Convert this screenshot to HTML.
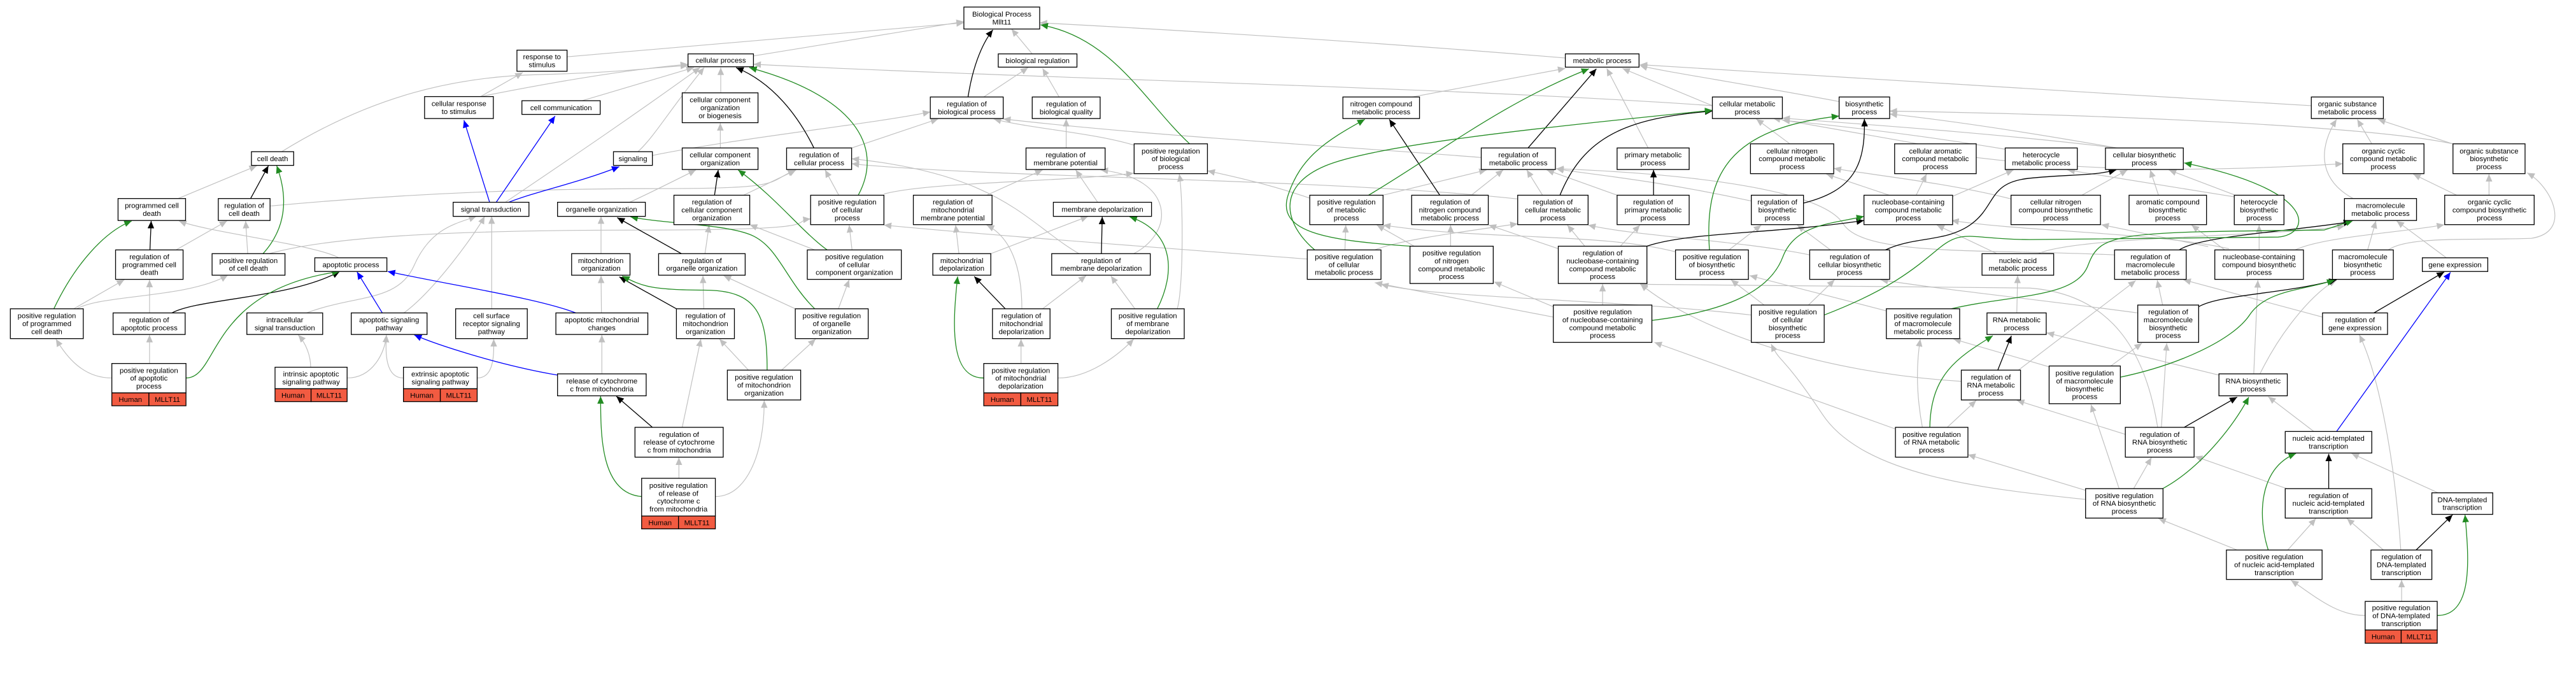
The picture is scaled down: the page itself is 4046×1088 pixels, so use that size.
<!DOCTYPE html>
<html><head><meta charset="utf-8"><style>
html,body{margin:0;padding:0;background:#fff;width:4046px;height:1088px;overflow:hidden}
svg{display:block}
rect{fill:#fff;stroke:#000;stroke-width:2}
rect.r{fill:#f25b41}
text{font-family:"Liberation Sans",sans-serif;font-size:17.5px;text-anchor:middle;fill:#000}
.g path{fill:none;stroke:#c0c0c0;stroke-width:1.8}
.k path{fill:none;stroke:#000;stroke-width:2}
.gr path{fill:none;stroke:#228b22;stroke-width:2}
.b path{fill:none;stroke:#0000ff;stroke-width:2}
</style></head><body>
<svg width="4046" height="1088" viewBox="0 0 6219 1672" preserveAspectRatio="none" xmlns="http://www.w3.org/2000/svg">
<defs>
<marker id="mg" markerWidth="20" markerHeight="16" refX="18" refY="8" orient="auto" markerUnits="userSpaceOnUse"><path d="M0,0 L18,8 L0,16 z" fill="#c0c0c0"/></marker>
<marker id="mk" markerWidth="20" markerHeight="16" refX="18" refY="8" orient="auto" markerUnits="userSpaceOnUse"><path d="M0,0 L18,8 L0,16 z" fill="#000"/></marker>
<marker id="mr" markerWidth="20" markerHeight="16" refX="18" refY="8" orient="auto" markerUnits="userSpaceOnUse"><path d="M0,0 L18,8 L0,16 z" fill="#228b22"/></marker>
<marker id="mb" markerWidth="20" markerHeight="16" refX="18" refY="8" orient="auto" markerUnits="userSpaceOnUse"><path d="M0,0 L18,8 L0,16 z" fill="#0000ff"/></marker>
</defs>
<g class="g" marker-end="url(#mg)">
<path d="M1369,137 L2327,55"/><path d="M1160,233 L1262,175"/><path d="M1160,233 C1400,185 1550,165 1661,155"/>
<path d="M1405,243 C1500,215 1600,185 1675,163"/><path d="M680,366 C900,230 1100,185 1300,180 S1550,165 1661,158"/>
<path d="M1220,488 C1350,400 1500,300 1690,163"/><path d="M1540,366 C1580,330 1620,260 1700,163"/>
<path d="M430,479 L620,400"/><path d="M652,497 C1000,465 1300,455 1600,455 S1850,440 1920,410"/>
<path d="M425,603 L548,533"/><path d="M598,612 L593,533"/><path d="M650,612 C800,570 1100,555 1560,555 S1900,535 1957,528"/>
<path d="M818,622 C760,590 500,560 432,533"/><path d="M178,745 L300,675"/><path d="M185,745 C250,710 450,720 550,664"/>
<path d="M361,755 L361,675"/><path d="M361,877 L361,808"/><path d="M270,912 C200,912 160,860 135,818"/>
<path d="M740,755 C860,710 960,730 1000,640 S1100,540 1150,522"/><path d="M975,755 C1050,700 1150,560 1170,522"/>
<path d="M1187,745 L1187,522"/><path d="M1452,755 L1451,665"/><path d="M1451,612 L1451,522"/>
<path d="M1520,488 C1560,470 1620,440 1680,410"/><path d="M750,886 C750,860 740,830 720,808"/>
<path d="M838,912 C900,912 930,850 933,808"/><path d="M974,912 C930,912 930,850 933,808"/>
<path d="M1152,912 C1195,912 1192,850 1192,818"/><path d="M1453,902 L1453,808"/>
<path d="M1647,1031 L1692,818"/><path d="M1639,1154 L1639,1104"/><path d="M1727,1198 C1800,1198 1845,1100 1845,966"/>
<path d="M1819,135 L2327,52"/><path d="M2492,130 L2442,70"/><path d="M2375,234 L2482,163"/><path d="M2557,234 L2517,165"/>
<path d="M2737,350 C2637,320 2487,310 2399,287"/><path d="M1740,224 L1740,163"/><path d="M1739,357 L1739,297"/>
<path d="M2056,357 L2265,287"/><path d="M2025,471 L1992,410"/><path d="M2134,468 C2237,440 2537,440 2737,418"/>
<path d="M1795,471 L1922,410"/><path d="M1967,603 L1810,542"/><path d="M2057,603 L2050,543"/><path d="M1702,612 L1712,543"/>
<path d="M1920,745 L1747,665"/><path d="M2024,745 L2050,675"/><path d="M1699,745 L1697,665"/>
<path d="M1807,893 L1737,818"/><path d="M1887,893 L1969,818"/><path d="M2574,357 L2574,287"/>
<path d="M2382,471 L2517,410"/><path d="M2650,488 L2597,410"/><path d="M2315,612 L2307,543"/><path d="M2392,612 L2627,522"/>
<path d="M2605,612 C2480,540 2420,420 2056,383"/>
<path d="M2737,612 C2837,560 2837,430 2657,410"/><path d="M2517,745 L2622,665"/><path d="M2467,745 C2467,640 2437,570 2382,543"/>
<path d="M2740,745 L2682,666"/><path d="M2842,745 C2857,700 2857,480 2847,420"/><path d="M2465,877 L2465,818"/>
<path d="M2554,912 C2627,912 2697,860 2737,818"/><path d="M1575,375 C1800,330 2100,300 2246,270"/>
<path d="M3779,140 C3300,100 2800,70 2510,55"/><path d="M4134,255 C3500,210 2500,190 1819,155"/>
<path d="M3576,380 C3200,350 2800,330 2422,287"/><path d="M3162,478 C3050,440 2950,420 2915,412"/>
<path d="M3664,480 C3200,430 2400,430 2056,395"/><path d="M3156,625 C2700,590 2300,560 2134,543"/>
<path d="M3409,234 L3779,165"/><path d="M4134,255 L3917,165"/><path d="M4440,245 C4200,200 4000,170 3959,158"/>
<path d="M3979,357 L3879,165"/><path d="M3339,471 L3589,410"/><path d="M3552,471 L3629,410"/><path d="M3724,471 L3686,410"/>
<path d="M3904,471 L3734,410"/><path d="M4228,485 C3974,430 3824,420 3757,407"/><path d="M3247,603 L3249,543"/>
<path d="M3502,594 L3502,543"/><path d="M3414,594 L3324,543"/><path d="M3319,603 C3374,580 3524,560 3664,540"/>
<path d="M3826,594 L3784,543"/><path d="M3912,594 L3959,543"/><path d="M3762,600 L3594,543"/><path d="M4174,603 L4252,543"/>
<path d="M4054,610 C3874,560 3574,580 3339,543"/><path d="M4419,603 L4339,543"/><path d="M4369,615 C4200,580 3950,570 3834,543"/>
<path d="M4366,736 L4429,675"/><path d="M4259,736 L4179,675"/><path d="M4228,760 C3874,720 3474,720 3334,686"/>
<path d="M3869,736 L3869,685"/><path d="M3750,740 L3607,680"/><path d="M3750,765 L3319,682"/><path d="M4554,750 L4224,665"/>
<path d="M5580,255 C5000,220 4300,180 3959,156"/><path d="M5922,347 C5700,300 5000,275 4562,268"/>
<path d="M5726,347 L5691,288"/><path d="M5921,347 L5741,288"/><path d="M5681,479 C5591,430 5601,350 5641,288"/>
<path d="M5931,471 L5826,420"/><path d="M6009,471 L6009,420"/><path d="M5906,622 L5786,533"/><path d="M5716,603 L5736,533"/>
<path d="M5766,603 C5811,570 5961,580 6111,575 C6211,560 6161,450 6101,417"/>
<path d="M5371,603 L5291,543"/><path d="M5454,603 L5454,543"/><path d="M5331,595 L5073,542"/>
<path d="M5381,600 C5200,560 4900,560 4711,532"/><path d="M5541,603 C5611,570 5811,560 5901,542"/>
<path d="M5394,475 L4991,410"/><path d="M5394,470 L5236,410"/><path d="M5211,471 L5191,410"/><path d="M5026,471 L5136,410"/>
<path d="M4855,480 C4700,440 4500,420 4427,406"/><path d="M4711,475 L4861,410"/><path d="M4626,471 L4651,420"/>
<path d="M4561,471 L4409,420"/><path d="M5111,357 C4900,320 4700,290 4562,275"/><path d="M5111,357 C4800,320 4500,300 4303,285"/>
<path d="M4631,347 L4280,285"/><path d="M4321,347 L4240,287"/><path d="M4771,380 C5100,420 5400,410 5656,395"/>
<path d="M4841,360 C4600,320 4400,300 4303,290"/>
<path d="M4821,612 L4676,543"/><path d="M4921,612 C5011,570 5511,570 5661,545"/><path d="M4869,755 L4871,665"/>
<path d="M5221,736 L5208,676"/><path d="M5161,755 C4900,720 4700,700 4540,675"/><path d="M5607,765 L5271,675"/>
<path d="M4873,893 L5156,677"/><path d="M4735,920 C4400,900 4100,800 3960,685"/><path d="M5096,883 L5171,828"/>
<path d="M4947,885 L4716,818"/><path d="M5357,905 L4941,803"/><path d="M5441,902 L5451,676"/>
<path d="M5456,902 C5511,790 5591,700 5641,676"/><path d="M4701,1031 L4771,966"/>
<path d="M4641,1031 C4626,950 4626,880 4636,818"/><path d="M4576,1035 L3994,826"/><path d="M5218,1031 L5231,828"/>
<path d="M5131,1048 L4869,966"/><path d="M5209,1031 C5180,850 5100,710 4900,695 C4600,690 4100,690 3960,686"/>
<path d="M5105,615 C4800,600 4500,620 4450,540 S4100,420 3757,407"/>
<path d="M5151,1179 L5194,1104"/><path d="M5116,1179 L5048,976"/><path d="M5035,1183 L4751,1097"/>
<path d="M5035,1205 C4800,1180 4500,1150 4400,1000 S4300,880 4276,830"/><path d="M5586,1041 L5476,957"/>
<path d="M5521,1179 L5299,1101"/><path d="M5886,1189 L5677,1094"/><path d="M5523,1327 L5591,1251"/>
<path d="M5401,1327 L5211,1251"/><path d="M5754,1327 L5666,1251"/><path d="M5796,1327 C5781,1100 5741,900 5696,808"/>
<path d="M5798,1451 L5798,1399"/><path d="M5710,1485 C5641,1485 5591,1440 5531,1400"/>
</g>
<g class="k" marker-end="url(#mk)">
<path d="M362,603 L365,533"/><path d="M605,479 L648,400"/><path d="M415,755 C480,720 700,720 820,655"/>
<path d="M1575,1031 L1488,956"/><path d="M1645,612 L1490,525"/><path d="M1633,745 L1495,668"/>
<path d="M2337,234 C2347,170 2367,110 2397,72"/><path d="M1965,357 C1927,280 1867,200 1777,163"/>
<path d="M1725,471 L1734,410"/><path d="M2659,612 L2661,523"/><path d="M2427,745 L2352,667"/>
<path d="M3476,471 L3354,288"/><path d="M3689,357 L3854,166"/><path d="M3766,471 C3824,330 3924,285 4134,268"/>
<path d="M3992,471 L3992,410"/><path d="M4354,490 C4474,460 4504,400 4501,287"/>
<path d="M3976,594 C4074,560 4274,565 4500,532"/>
<path d="M4552,603 C4620,570 4700,585 4760,540 S4800,440 4900,430 S5050,425 5109,410"/>
<path d="M5261,603 C5311,570 5511,560 5676,535"/><path d="M5308,740 C5361,710 5511,710 5641,675"/>
<path d="M5731,755 L5901,656"/><path d="M4823,893 L4856,810"/><path d="M5273,1031 L5401,958"/>
<path d="M5622,1179 L5622,1095"/><path d="M5833,1327 L5921,1242"/>
</g>
<g class="gr" marker-end="url(#mr)">
<path d="M130,745 C180,640 250,560 318,533"/><path d="M635,612 C700,540 690,460 668,400"/>
<path d="M449,912 C530,912 500,700 820,655"/><path d="M1549,1198 C1450,1190 1450,1050 1450,956"/>
<path d="M1967,745 C1900,680 1880,600 1820,570 S1600,540 1522,523"/>
<path d="M1852,893 C1852,760 1830,700 1700,700 S1550,690 1502,666"/>
<path d="M2872,347 C2767,250 2687,90 2512,60"/><path d="M2072,471 C2137,350 2057,230 1809,163"/>
<path d="M1997,603 C1937,560 1877,480 1782,410"/><path d="M2794,745 C2837,660 2837,560 2727,523"/>
<path d="M2375,912 C2297,912 2297,800 2312,667"/><path d="M3304,471 C3474,370 3624,250 3836,166"/>
<path d="M3174,603 C3100,540 3080,450 3200,400 S3700,310 4134,266"/>
<path d="M3404,594 C3200,580 3080,560 3110,470 S3200,340 3295,288"/>
<path d="M4127,603 C4114,420 4174,310 4440,280"/>
<path d="M3988,773 C4174,750 4274,700 4304,620 S4424,540 4500,522"/>
<path d="M4404,760 C4560,700 4620,650 4680,600 S4760,578 4900,578 L5500,572 C5580,565 5600,460 5273,393"/>
<path d="M4711,745 C4861,710 5011,720 5041,640 S5111,560 5611,555 L5681,532"/>
<path d="M5119,910 C5261,880 5391,820 5431,760 S5561,700 5636,676"/>
<path d="M4659,1031 C4661,900 4731,860 4811,810"/><path d="M5221,1179 C5311,1130 5391,1030 5429,958"/>
<path d="M5476,1327 C5451,1250 5451,1130 5543,1094"/><path d="M5884,1485 C5971,1485 5961,1350 5951,1242"/>
</g>
<g class="b" marker-end="url(#mb)">
<path d="M1182,488 L1120,290"/><path d="M1198,488 L1340,280"/><path d="M1228,488 C1300,460 1400,440 1495,402"/>
<path d="M923,755 L862,656"/><path d="M1390,755 C1300,720 1100,690 936,655"/>
<path d="M1346,905 C1200,880 1050,830 1000,808"/><path d="M5641,1041 L5916,657"/>
</g>

<!-- nodes -->
<rect x="1248" y="121" width="121" height="51"/><text x="1308.5" y="143">response to<tspan x="1308.5" dy="19">stimulus</tspan></text>
<rect x="1025" y="233" width="166" height="53"/><text x="1108" y="256">cellular response<tspan x="1108" dy="19">to stimulus</tspan></text>
<rect x="1260" y="243" width="189" height="33"/><text x="1354.5" y="265.5">cell communication</text>
<rect x="607" y="366" width="102" height="33"/><text x="658" y="388.5">cell death</text>
<rect x="1481" y="366" width="94" height="33"/><text x="1528" y="388.5">signaling</text>
<rect x="285" y="479" width="163" height="53"/><text x="366.5" y="502">programmed cell<tspan x="366.5" dy="19">death</tspan></text>
<rect x="527" y="479" width="125" height="53"/><text x="589.5" y="502">regulation of<tspan x="589.5" dy="19">cell death</tspan></text>
<rect x="1094" y="488" width="183" height="34"/><text x="1185.5" y="511">signal transduction</text>
<rect x="1346" y="488" width="212" height="34"/><text x="1452" y="511">organelle organization</text>
<rect x="279" y="603" width="163" height="71"/><text x="360.5" y="625.5">regulation of<tspan x="360.5" dy="19">programmed cell</tspan><tspan x="360.5" dy="19">death</tspan></text>
<rect x="512" y="612" width="176" height="52"/><text x="600" y="634.5">positive regulation<tspan x="600" dy="19">of cell death</tspan></text>
<rect x="760" y="622" width="174" height="33"/><text x="847" y="644.5">apoptotic process</text>
<rect x="1380" y="612" width="141" height="52"/><text x="1450.5" y="634.5">mitochondrion<tspan x="1450.5" dy="19">organization</tspan></text>
<rect x="25" y="745" width="176" height="72"/><text x="113" y="768">positive regulation<tspan x="113" dy="19">of programmed</tspan><tspan x="113" dy="19">cell death</tspan></text>
<rect x="273" y="755" width="174" height="52"/><text x="360" y="777.5">regulation of<tspan x="360" dy="19">apoptotic process</tspan></text>
<rect x="596" y="755" width="183" height="52"/><text x="687.5" y="777.5">intracellular<tspan x="687.5" dy="19">signal transduction</tspan></text>
<rect x="848" y="755" width="183" height="52"/><text x="939.5" y="777.5">apoptotic signaling<tspan x="939.5" dy="19">pathway</tspan></text>
<rect x="1100" y="745" width="173" height="72"/><text x="1186.5" y="768">cell surface<tspan x="1186.5" dy="19">receptor signaling</tspan><tspan x="1186.5" dy="19">pathway</tspan></text>
<rect x="1342" y="755" width="222" height="52"/><text x="1453" y="777.5">apoptotic mitochondrial<tspan x="1453" dy="19">changes</tspan></text>
<rect x="270" y="877" width="179" height="71"/><text x="359.5" y="899.5">positive regulation<tspan x="359.5" dy="19">of apoptotic</tspan><tspan x="359.5" dy="19">process</tspan></text>
<rect class="r" x="270" y="948" width="89.5" height="31"/><rect class="r" x="359.5" y="948" width="89.5" height="31"/><text x="314.75" y="970">Human</text><text x="404.25" y="970">MLLT11</text>
<rect x="664" y="886" width="174" height="52"/><text x="751" y="908.5">intrinsic apoptotic<tspan x="751" dy="19">signaling pathway</tspan></text>
<rect class="r" x="664" y="938" width="87" height="31"/><rect class="r" x="751" y="938" width="87" height="31"/><text x="707.5" y="960">Human</text><text x="794.5" y="960">MLLT11</text>
<rect x="974" y="886" width="178" height="52"/><text x="1063" y="908.5">extrinsic apoptotic<tspan x="1063" dy="19">signaling pathway</tspan></text>
<rect class="r" x="974" y="938" width="89" height="31"/><rect class="r" x="1063" y="938" width="89" height="31"/><text x="1018.5" y="960">Human</text><text x="1107.5" y="960">MLLT11</text>
<rect x="1346" y="902" width="214" height="53"/><text x="1453" y="925">release of cytochrome<tspan x="1453" dy="19">c from mitochondria</tspan></text>

<rect x="2327" y="17" width="183" height="53"/><text x="2418.5" y="40">Biological Process<tspan x="2418.5" dy="19">Mllt11</tspan></text>
<rect x="1661" y="130" width="158" height="31"/><text x="1740" y="151.5">cellular process</text>
<rect x="2410" y="130" width="190" height="32"/><text x="2505" y="152">biological regulation</text>
<rect x="1647" y="224" width="183" height="72"/><text x="1738.5" y="247">cellular component<tspan x="1738.5" dy="19">organization</tspan><tspan x="1738.5" dy="19">or biogenesis</tspan></text>
<rect x="2246" y="234" width="176" height="52"/><text x="2334" y="256.5">regulation of<tspan x="2334" dy="19">biological process</tspan></text>
<rect x="2492" y="234" width="164" height="52"/><text x="2574" y="256.5">regulation of<tspan x="2574" dy="19">biological quality</tspan></text>
<rect x="1647" y="357" width="183" height="52"/><text x="1738.5" y="379.5">cellular component<tspan x="1738.5" dy="19">organization</tspan></text>
<rect x="1899" y="357" width="157" height="52"/><text x="1977.5" y="379.5">regulation of<tspan x="1977.5" dy="19">cellular process</tspan></text>
<rect x="2477" y="357" width="191" height="52"/><text x="2572.5" y="379.5">regulation of<tspan x="2572.5" dy="19">membrane potential</tspan></text>
<rect x="2738" y="347" width="177" height="72"/><text x="2826.5" y="370">positive regulation<tspan x="2826.5" dy="19">of biological</tspan><tspan x="2826.5" dy="19">process</tspan></text>
<rect x="1627" y="471" width="183" height="71"/><text x="1718.5" y="493.5">regulation of<tspan x="1718.5" dy="19">cellular component</tspan><tspan x="1718.5" dy="19">organization</tspan></text>
<rect x="1957" y="471" width="177" height="71"/><text x="2045.5" y="493.5">positive regulation<tspan x="2045.5" dy="19">of cellular</tspan><tspan x="2045.5" dy="19">process</tspan></text>
<rect x="2205" y="471" width="190" height="71"/><text x="2300" y="493.5">regulation of<tspan x="2300" dy="19">mitochondrial</tspan><tspan x="2300" dy="19">membrane potential</tspan></text>
<rect x="2543" y="488" width="237" height="34"/><text x="2661.5" y="511">membrane depolarization</text>
<rect x="1590" y="612" width="209" height="52"/><text x="1694.5" y="634.5">regulation of<tspan x="1694.5" dy="19">organelle organization</tspan></text>
<rect x="1949" y="603" width="227" height="71"/><text x="2062.5" y="625.5">positive regulation<tspan x="2062.5" dy="19">of cellular</tspan><tspan x="2062.5" dy="19">component organization</tspan></text>
<rect x="2252" y="612" width="140" height="52"/><text x="2322" y="634.5">mitochondrial<tspan x="2322" dy="19">depolarization</tspan></text>
<rect x="2539" y="612" width="238" height="52"/><text x="2658" y="634.5">regulation of<tspan x="2658" dy="19">membrane depolarization</tspan></text>
<rect x="1633" y="745" width="140" height="72"/><text x="1703" y="768">regulation of<tspan x="1703" dy="19">mitochondrion</tspan><tspan x="1703" dy="19">organization</tspan></text>
<rect x="1920" y="745" width="176" height="72"/><text x="2008" y="768">positive regulation<tspan x="2008" dy="19">of organelle</tspan><tspan x="2008" dy="19">organization</tspan></text>
<rect x="2396" y="745" width="139" height="72"/><text x="2465.5" y="768">regulation of<tspan x="2465.5" dy="19">mitochondrial</tspan><tspan x="2465.5" dy="19">depolarization</tspan></text>
<rect x="2683" y="745" width="176" height="72"/><text x="2771" y="768">positive regulation<tspan x="2771" dy="19">of membrane</tspan><tspan x="2771" dy="19">depolarization</tspan></text>
<rect x="1756" y="893" width="177" height="72"/><text x="1844.5" y="916">positive regulation<tspan x="1844.5" dy="19">of mitochondrion</tspan><tspan x="1844.5" dy="19">organization</tspan></text>
<rect x="2375" y="877" width="179" height="71"/><text x="2464.5" y="899.5">positive regulation<tspan x="2464.5" dy="19">of mitochondrial</tspan><tspan x="2464.5" dy="19">depolarization</tspan></text>
<rect class="r" x="2375" y="948" width="89.5" height="31"/><rect class="r" x="2464.5" y="948" width="89.5" height="31"/><text x="2419.75" y="970">Human</text><text x="2509.25" y="970">MLLT11</text>
<rect x="1533" y="1031" width="213" height="72"/><text x="1639.5" y="1054">regulation of<tspan x="1639.5" dy="19">release of cytochrome</tspan><tspan x="1639.5" dy="19">c from mitochondria</tspan></text>
<rect x="1549" y="1154" width="178" height="91"/><text x="1638" y="1177">positive regulation<tspan x="1638" dy="19">of release of</tspan><tspan x="1638" dy="19">cytochrome c</tspan><tspan x="1638" dy="19">from mitochondria</tspan></text>
<rect class="r" x="1549" y="1245" width="89" height="31"/><rect class="r" x="1638" y="1245" width="89" height="31"/><text x="1593.5" y="1267">Human</text><text x="1682.5" y="1267">MLLT11</text>

<rect x="3779" y="130" width="178" height="32"/><text x="3868" y="152">metabolic process</text>
<rect x="3242" y="234" width="185" height="52"/><text x="3334.5" y="256.5">nitrogen compound<tspan x="3334.5" dy="19">metabolic process</tspan></text>
<rect x="4134" y="234" width="169" height="52"/><text x="4218.5" y="256.5">cellular metabolic<tspan x="4218.5" dy="19">process</tspan></text>
<rect x="4440" y="234" width="122" height="52"/><text x="4501" y="256.5">biosynthetic<tspan x="4501" dy="19">process</tspan></text>
<rect x="3576" y="357" width="179" height="52"/><text x="3665.5" y="379.5">regulation of<tspan x="3665.5" dy="19">metabolic process</tspan></text>
<rect x="3904" y="357" width="174" height="52"/><text x="3991" y="379.5">primary metabolic<tspan x="3991" dy="19">process</tspan></text>
<rect x="4226" y="347" width="201" height="72"/><text x="4326.5" y="370">cellular nitrogen<tspan x="4326.5" dy="19">compound metabolic</tspan><tspan x="4326.5" dy="19">process</tspan></text>
<rect x="4574" y="347" width="197" height="72"/><text x="4672.5" y="370">cellular aromatic<tspan x="4672.5" dy="19">compound metabolic</tspan><tspan x="4672.5" dy="19">process</tspan></text>
<rect x="3162" y="471" width="177" height="71"/><text x="3250.5" y="493.5">positive regulation<tspan x="3250.5" dy="19">of metabolic</tspan><tspan x="3250.5" dy="19">process</tspan></text>
<rect x="3408" y="471" width="185" height="71"/><text x="3500.5" y="493.5">regulation of<tspan x="3500.5" dy="19">nitrogen compound</tspan><tspan x="3500.5" dy="19">metabolic process</tspan></text>
<rect x="3664" y="471" width="170" height="71"/><text x="3749" y="493.5">regulation of<tspan x="3749" dy="19">cellular metabolic</tspan><tspan x="3749" dy="19">process</tspan></text>
<rect x="3904" y="471" width="174" height="71"/><text x="3991" y="493.5">regulation of<tspan x="3991" dy="19">primary metabolic</tspan><tspan x="3991" dy="19">process</tspan></text>
<rect x="4228" y="471" width="126" height="71"/><text x="4291" y="493.5">regulation of<tspan x="4291" dy="19">biosynthetic</tspan><tspan x="4291" dy="19">process</tspan></text>
<rect x="4500" y="471" width="214" height="71"/><text x="4607" y="493.5">nucleobase-containing<tspan x="4607" dy="19">compound metabolic</tspan><tspan x="4607" dy="19">process</tspan></text>
<rect x="3156" y="603" width="178" height="71"/><text x="3245" y="625.5">positive regulation<tspan x="3245" dy="19">of cellular</tspan><tspan x="3245" dy="19">metabolic process</tspan></text>
<rect x="3404" y="594" width="201" height="90"/><text x="3504.5" y="616.5">positive regulation<tspan x="3504.5" dy="19">of nitrogen</tspan><tspan x="3504.5" dy="19">compound metabolic</tspan><tspan x="3504.5" dy="19">process</tspan></text>
<rect x="3762" y="594" width="214" height="90"/><text x="3869" y="616.5">regulation of<tspan x="3869" dy="19">nucleobase-containing</tspan><tspan x="3869" dy="19">compound metabolic</tspan><tspan x="3869" dy="19">process</tspan></text>
<rect x="4045" y="603" width="176" height="71"/><text x="4133" y="625.5">positive regulation<tspan x="4133" dy="19">of biosynthetic</tspan><tspan x="4133" dy="19">process</tspan></text>
<rect x="4369" y="603" width="193" height="71"/><text x="4465.5" y="625.5">regulation of<tspan x="4465.5" dy="19">cellular biosynthetic</tspan><tspan x="4465.5" dy="19">process</tspan></text>
<rect x="4554" y="745" width="177" height="72"/><text x="4642.5" y="768">positive regulation<tspan x="4642.5" dy="19">of macromolecule</tspan><tspan x="4642.5" dy="19">metabolic process</tspan></text>
<rect x="3750" y="736" width="238" height="90"/><text x="3869" y="758.5">positive regulation<tspan x="3869" dy="19">of nucleobase-containing</tspan><tspan x="3869" dy="19">compound metabolic</tspan><tspan x="3869" dy="19">process</tspan></text>
<rect x="4228" y="736" width="176" height="90"/><text x="4316" y="758.5">positive regulation<tspan x="4316" dy="19">of cellular</tspan><tspan x="4316" dy="19">biosynthetic</tspan><tspan x="4316" dy="19">process</tspan></text>
<rect x="4576" y="1031" width="175" height="72"/><text x="4663.5" y="1054">positive regulation<tspan x="4663.5" dy="19">of RNA metabolic</tspan><tspan x="4663.5" dy="19">process</tspan></text>

<rect x="5580" y="234" width="174" height="52"/><text x="5667" y="256.5">organic substance<tspan x="5667" dy="19">metabolic process</tspan></text>
<rect x="4841" y="357" width="174" height="52"/><text x="4928" y="379.5">heterocycle<tspan x="4928" dy="19">metabolic process</tspan></text>
<rect x="5083" y="357" width="188" height="52"/><text x="5177" y="379.5">cellular biosynthetic<tspan x="5177" dy="19">process</tspan></text>
<rect x="5656" y="347" width="196" height="72"/><text x="5754" y="370">organic cyclic<tspan x="5754" dy="19">compound metabolic</tspan><tspan x="5754" dy="19">process</tspan></text>
<rect x="5922" y="347" width="174" height="72"/><text x="6009" y="370">organic substance<tspan x="6009" dy="19">biosynthetic</tspan><tspan x="6009" dy="19">process</tspan></text>
<rect x="4855" y="471" width="216" height="71"/><text x="4963" y="493.5">cellular nitrogen<tspan x="4963" dy="19">compound biosynthetic</tspan><tspan x="4963" dy="19">process</tspan></text>
<rect x="5140" y="471" width="187" height="71"/><text x="5233.5" y="493.5">aromatic compound<tspan x="5233.5" dy="19">biosynthetic</tspan><tspan x="5233.5" dy="19">process</tspan></text>
<rect x="5394" y="471" width="120" height="71"/><text x="5454" y="493.5">heterocycle<tspan x="5454" dy="19">biosynthetic</tspan><tspan x="5454" dy="19">process</tspan></text>
<rect x="5660" y="479" width="174" height="53"/><text x="5747" y="502">macromolecule<tspan x="5747" dy="19">metabolic process</tspan></text>
<rect x="5902" y="471" width="216" height="71"/><text x="6010" y="493.5">organic cyclic<tspan x="6010" dy="19">compound biosynthetic</tspan><tspan x="6010" dy="19">process</tspan></text>
<rect x="4785" y="612" width="173" height="52"/><text x="4871.5" y="634.5">nucleic acid<tspan x="4871.5" dy="19">metabolic process</tspan></text>
<rect x="5105" y="603" width="173" height="71"/><text x="5191.5" y="625.5">regulation of<tspan x="5191.5" dy="19">macromolecule</tspan><tspan x="5191.5" dy="19">metabolic process</tspan></text>
<rect x="5347" y="603" width="214" height="71"/><text x="5454" y="625.5">nucleobase-containing<tspan x="5454" dy="19">compound biosynthetic</tspan><tspan x="5454" dy="19">process</tspan></text>
<rect x="5631" y="603" width="147" height="71"/><text x="5704.5" y="625.5">macromolecule<tspan x="5704.5" dy="19">biosynthetic</tspan><tspan x="5704.5" dy="19">process</tspan></text>
<rect x="5848" y="622" width="158" height="33"/><text x="5927" y="644.5">gene expression</text>
<rect x="4797" y="755" width="143" height="52"/><text x="4868.5" y="777.5">RNA metabolic<tspan x="4868.5" dy="19">process</tspan></text>
<rect x="5161" y="736" width="147" height="90"/><text x="5234.5" y="758.5">regulation of<tspan x="5234.5" dy="19">macromolecule</tspan><tspan x="5234.5" dy="19">biosynthetic</tspan><tspan x="5234.5" dy="19">process</tspan></text>
<rect x="5607" y="755" width="157" height="52"/><text x="5685.5" y="777.5">regulation of<tspan x="5685.5" dy="19">gene expression</tspan></text>
<rect x="4735" y="893" width="143" height="72"/><text x="4806.5" y="916">regulation of<tspan x="4806.5" dy="19">RNA metabolic</tspan><tspan x="4806.5" dy="19">process</tspan></text>
<rect x="4947" y="883" width="172" height="91"/><text x="5033" y="906">positive regulation<tspan x="5033" dy="19">of macromolecule</tspan><tspan x="5033" dy="19">biosynthetic</tspan><tspan x="5033" dy="19">process</tspan></text>
<rect x="5357" y="902" width="165" height="53"/><text x="5439.5" y="925">RNA biosynthetic<tspan x="5439.5" dy="19">process</tspan></text>
<rect x="5131" y="1031" width="166" height="72"/><text x="5214" y="1054">regulation of<tspan x="5214" dy="19">RNA biosynthetic</tspan><tspan x="5214" dy="19">process</tspan></text>
<rect x="5517" y="1041" width="209" height="52"/><text x="5621.5" y="1063.5">nucleic acid-templated<tspan x="5621.5" dy="19">transcription</tspan></text>
<rect x="5035" y="1179" width="187" height="71"/><text x="5128.5" y="1201.5">positive regulation<tspan x="5128.5" dy="19">of RNA biosynthetic</tspan><tspan x="5128.5" dy="19">process</tspan></text>
<rect x="5517" y="1179" width="209" height="71"/><text x="5621.5" y="1201.5">regulation of<tspan x="5621.5" dy="19">nucleic acid-templated</tspan><tspan x="5621.5" dy="19">transcription</tspan></text>
<rect x="5871" y="1189" width="147" height="52"/><text x="5944.5" y="1211.5">DNA-templated<tspan x="5944.5" dy="19">transcription</tspan></text>
<rect x="5375" y="1327" width="231" height="71"/><text x="5490.5" y="1349.5">positive regulation<tspan x="5490.5" dy="19">of nucleic acid-templated</tspan><tspan x="5490.5" dy="19">transcription</tspan></text>
<rect x="5724" y="1327" width="147" height="71"/><text x="5797.5" y="1349.5">regulation of<tspan x="5797.5" dy="19">DNA-templated</tspan><tspan x="5797.5" dy="19">transcription</tspan></text>
<rect x="5710" y="1451" width="174" height="69"/><text x="5797" y="1472.5">positive regulation<tspan x="5797" dy="19">of DNA-templated</tspan><tspan x="5797" dy="19">transcription</tspan></text>
<rect class="r" x="5710" y="1520" width="87" height="32"/><rect class="r" x="5797" y="1520" width="87" height="32"/><text x="5753.5" y="1542">Human</text><text x="5840.5" y="1542">MLLT11</text>
</svg>
</body></html>
